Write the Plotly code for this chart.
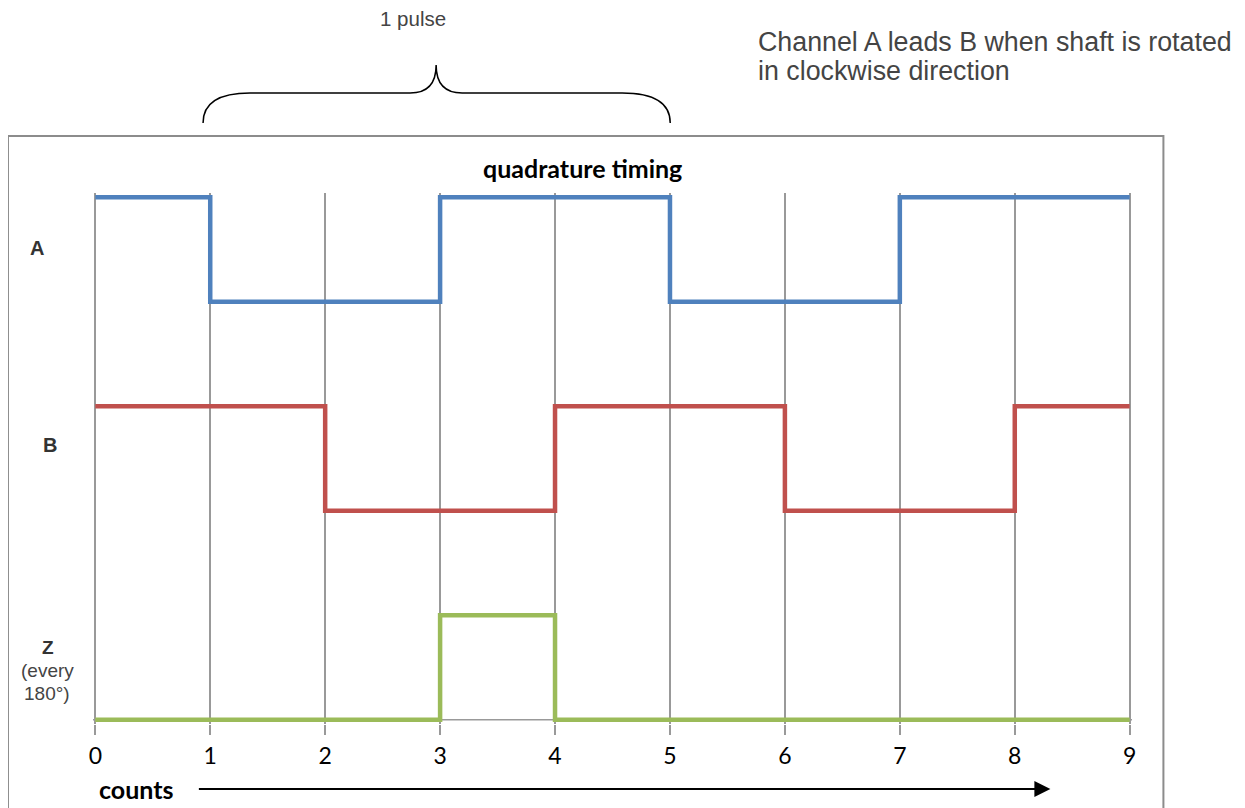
import plotly.graph_objects as go

# ---- data ----
counts = [0, 1, 2, 3, 4, 5, 6, 7, 8, 9]
tick_labels = ["0", "1", "2", "3", "4", "5", "6", "7", "8", "9"]
signal_A = [1, 0, 0, 1, 1, 0, 0, 1, 1, 1]
signal_B = [1, 1, 0, 0, 1, 1, 0, 0, 1, 1]
signal_Z = [0, 0, 0, 1, 0, 0, 0, 0, 0, 0]
channel_names = ["A", "B", "Z"]
channel_offsets = [4, 2, 0]
channel_colors = ["#4F81BD", "#C0504D", "#9BBB59"]

# page has an 8px body margin; positions below are given in screen pixels
OFF = 8
W, H = 1237, 800
L, T = 85, 185
PW, PH = 1038.6, 531
R = W - L - PW
B = H - T - PH


def px(x):
    return (x - OFF - L) / PW


def py(y):
    return (H - B - (y - OFF)) / PH


fig = go.Figure()
for name, sig, off, col in zip(channel_names, [signal_A, signal_B, signal_Z], channel_offsets, channel_colors):
    fig.add_trace(go.Scatter(
        x=counts, y=[v + off for v in sig], mode="lines", name=name,
        line=dict(color=col, width=4.5, shape="hv"), hoverinfo="skip",
    ))

fig.update_layout(
    width=W, height=H,
    margin=dict(l=L, r=R, t=T, b=B, autoexpand=False),
    paper_bgcolor="white", plot_bgcolor="white",
    showlegend=False,
    xaxis=dict(
        range=[-0.02, 9.02], tickmode="array", tickvals=counts, ticktext=tick_labels,
        showgrid=True, gridcolor="#999999", gridwidth=1.5,
        ticks="outside", ticklen=10, tickcolor="#999999", tickwidth=1.5,
        showline=False, zeroline=False,
        tickfont=dict(family="Lato", size=23, color="black"),
        ticklabelstandoff=1,
    ),
    yaxis=dict(range=[-0.04, 5.04], showgrid=False, zeroline=False,
               showticklabels=False, ticks="", showline=False),
    font=dict(family="Liberation Sans"),
)

# x axis base line (gray, under the green trace)
fig.add_shape(type="line", xref="paper", yref="y", x0=0, x1=1, y0=0, y1=0,
              line=dict(color="#999999", width=1.5), layer="below")

# outer chart border
fig.add_shape(type="rect", xref="paper", yref="paper",
              x0=px(8), x1=px(1163), y0=py(136), y1=py(830),
              line=dict(color="#8c8c8c", width=2), layer="below")

# brace above the chart
pts = dict(
    l=(203, 123), lc1=(203, 93), lf=(250, 93), mf1=(410, 93), mc=(436, 93), peak=(436, 65),
    mf2=(462, 93), rf=(622, 93), rc1=(670, 93), r=(670, 123),
)


def P(k):
    x, y = pts[k]
    return f"{px(x):.5f},{py(y):.5f}"


path = (f"M {P('l')} Q {P('lc1')} {P('lf')} L {P('mf1')} Q {P('mc')} {P('peak')} "
        f"Q {P('mc')} {P('mf2')} L {P('rf')} Q {P('rc1')} {P('r')}")
fig.add_shape(type="path", xref="paper", yref="paper", path=path,
              line=dict(color="black", width=1.5))


def text(t, x, y, size, color, family="Liberation Sans", xanchor="center"):
    return dict(text=t, x=px(x), y=py(y), xref="paper", yref="paper",
                xanchor=xanchor, yanchor="middle", showarrow=False,
                font=dict(family=family, size=size, color=color))


ann = [
    text("<b>quadrature timing</b>", 582, 168, 25, "black", family="Lato"),
    text("1 pulse", 413, 19, 20.5, "#444444"),
    text("Channel A leads B when shaft is rotated", 756, 42, 26.8, "#444444", xanchor="left"),
    text("in clockwise direction", 756, 71, 26.8, "#444444", xanchor="left"),
    text("<b>A</b>", 37, 248, 20, "#333333"),
    text("<b>B</b>", 50, 445, 20, "#333333"),
    text("<b>Z</b>", 48, 647, 19, "#333333"),
    text("(every", 48, 670, 19, "#444444"),
    text("180°)", 47, 693, 19, "#444444"),
    text("<b>counts</b>", 136, 789, 25, "black", family="Lato"),
]
ann.append(dict(text="", x=px(1050), y=py(789), xref="paper", yref="paper",
                ax=197 - 1050, ay=0, axref="pixel", ayref="pixel",
                showarrow=True, arrowhead=2, arrowsize=1.6, arrowwidth=2, arrowcolor="black"))
fig.update_layout(annotations=ann)

fig.write_html("out.html")
